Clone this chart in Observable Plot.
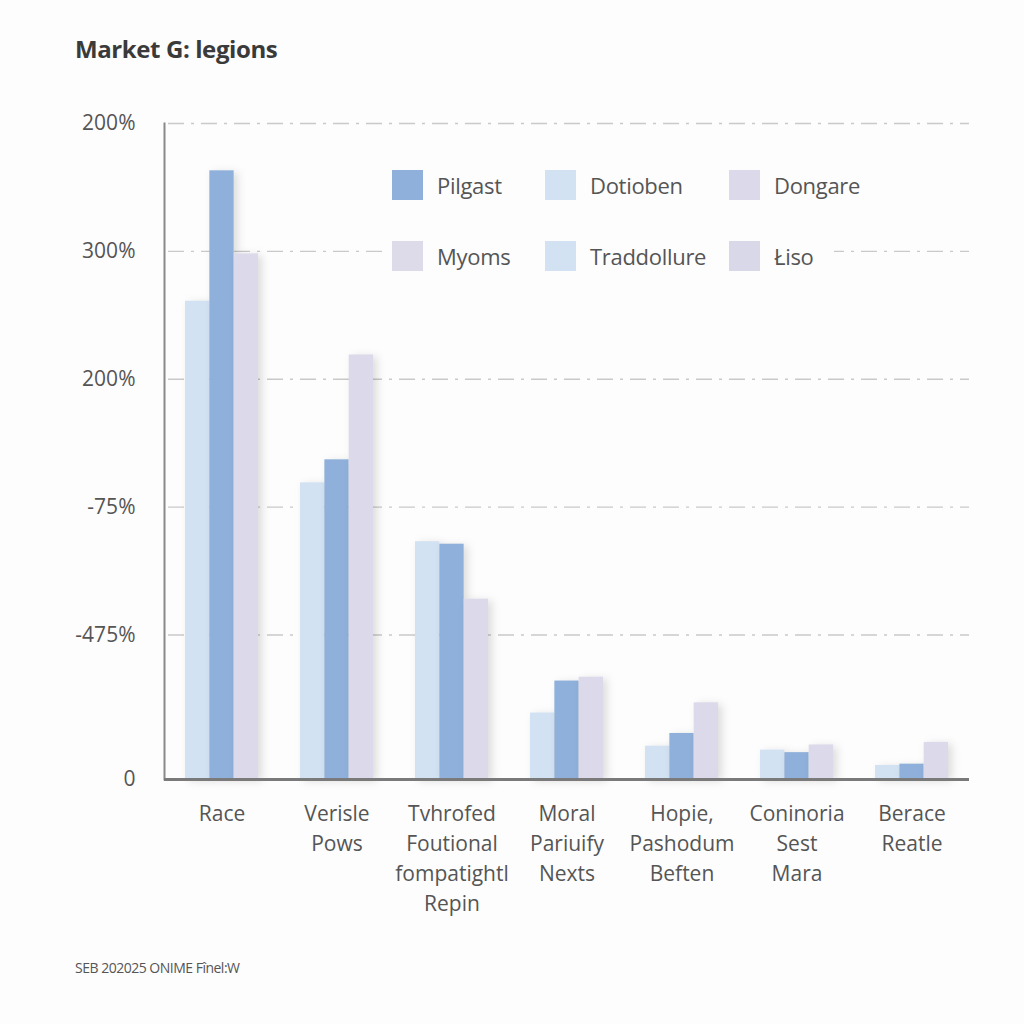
<!DOCTYPE html>
<html>
<head>
<meta charset="utf-8">
<script src="https://cdn.jsdelivr.net/npm/d3@7"></script>
<script src="https://cdn.jsdelivr.net/npm/@observablehq/plot@0.6"></script>
<style>
  html, body { margin: 0; padding: 0; background: #fdfdfd; }
  #page { position: relative; width: 1024px; height: 1024px; background: #fdfdfd; font-family: "Open Sans", sans-serif; overflow: hidden; }
  #title { position: absolute; left: 75px; top: 32px; font-size: 24px; font-weight: 700; color: #3a3a3a; letter-spacing: -0.4px; }
  #chart { position: absolute; left: 0; top: 100px; }
  #legend { position: absolute; left: 384px; top: 164px; width: 450px; height: 116px; background: #fdfdfd; }
  .item { position: absolute; display: flex; align-items: center; font-size: 22px; color: #555; letter-spacing: -0.3px; }
  .sw { width: 31px; height: 30px; margin-right: 14px; }
  #caption { position: absolute; left: 75px; top: 958px; font-size: 14px; color: #555; letter-spacing: -0.5px; }
  svg g[aria-label="bar"] { filter: drop-shadow(4px 2px 4px rgba(0,0,0,0.13)); }
</style>
</head>
<body>
<div id="page">
  <div id="title"></div>
  <div id="chart"></div>
  <div id="legend"></div>
  <div id="caption"></div>
</div>
<script>
const title = "Market G: legions";
const caption = "SEB 202025 ONIME Fînel:W";

const groups = [
  "Race",
  "Verisle\nPows",
  "Tvhrofed\nFoutional\nfompatightl\nRepin",
  "Moral\nPariuify\nNexts",
  "Hopie,\nPashodum\nBeften",
  "Coninoria\nSest\nMara",
  "Berace\nReatle"
];

const seriesNames = ["Dotioben", "Pilgast", "Dongare"];
const dotioben = [374, 232, 186, 52, 26, 23, 11];
const pilgast  = [476, 250, 184, 77, 36, 21, 12];
const dongare  = [411, 332, 141, 80, 60, 27, 29];

const yTickValues = [0, 113, 213, 313, 413, 513];
const yTickLabels = ["0", "-475%", "-75%", "200%", "300%", "200%"];

const legendNames  = ["Pilgast", "Dotioben", "Dongare", "Myoms", "Traddollure", "Łiso"];
const legendColors = ["#8fb0da", "#d3e2f2", "#dcdaea", "#dddbea", "#d3e2f2", "#d9d8e8"];
const barColors = ["#d3e2f2", "#8fb0da", "#dcdaea"];

const seriesValues = [dotioben, pilgast, dongare];

document.getElementById("title").textContent = title;
document.getElementById("caption").textContent = caption;

// Layout
const W = 1024, H = 830;
const mL = 164, mR = 55, mT = 23, mB = 151;
const padInner = 0.365, padOuter = 0.18;
const step = (W - mL - mR) / (groups.length - padInner + 2 * padOuter);
const bw = step * (1 - padInner);
const barW = bw / 3;

const marks = [
  Plot.ruleY(yTickValues.filter(d => d > 0), {stroke: "#c9c9c9", strokeWidth: 1.3, strokeDasharray: "16,7,3,7", insetLeft: 4})
];
seriesValues.forEach((vals, i) => {
  const data = groups.map((g, j) => ({group: g, value: vals[j], series: seriesNames[i]}));
  marks.push(Plot.barY(data, {
    x: "group", y: "value", fill: barColors[i],
    insetLeft: i * barW, insetRight: (2 - i) * barW
  }));
});
marks.push(Plot.frame({anchor: "left", stroke: "#8a8a8a", strokeWidth: 2}));
marks.push(Plot.ruleY([0], {stroke: "#7a7a7a", strokeWidth: 3}));
marks.push(Plot.axisY({
  ticks: yTickValues, tickSize: 0, tickPadding: 29,
  tickFormat: d => yTickLabels[yTickValues.indexOf(d)],
  label: null, fontSize: 21, fill: "#555"
}));
marks.push(Plot.axisX({
  tickSize: 0, tickPadding: 20, label: null, fontSize: 21, fill: "#555",
  lineHeight: 1.43, textAnchor: "middle", lineAnchor: "top"
}));

const chart = Plot.plot({
  width: W, height: H,
  marginLeft: mL, marginRight: mR, marginTop: mT, marginBottom: mB,
  style: {fontFamily: "Open Sans, sans-serif", background: "transparent", color: "#555"},
  x: {domain: groups, paddingInner: padInner, paddingOuter: padOuter},
  y: {domain: [0, 513]},
  marks
});
document.getElementById("chart").appendChild(chart);

// Legend
const leg = document.getElementById("legend");
const colX = [8, 161, 345];
const rowY = [6, 77];
legendNames.forEach((name, k) => {
  const it = document.createElement("div");
  it.className = "item";
  it.style.left = colX[k % 3] + "px";
  it.style.top = rowY[Math.floor(k / 3)] + "px";
  const sw = document.createElement("div");
  sw.className = "sw";
  sw.style.background = legendColors[k];
  const tx = document.createElement("span");
  tx.textContent = name;
  it.appendChild(sw);
  it.appendChild(tx);
  leg.appendChild(it);
});
</script>
</body>
</html>
